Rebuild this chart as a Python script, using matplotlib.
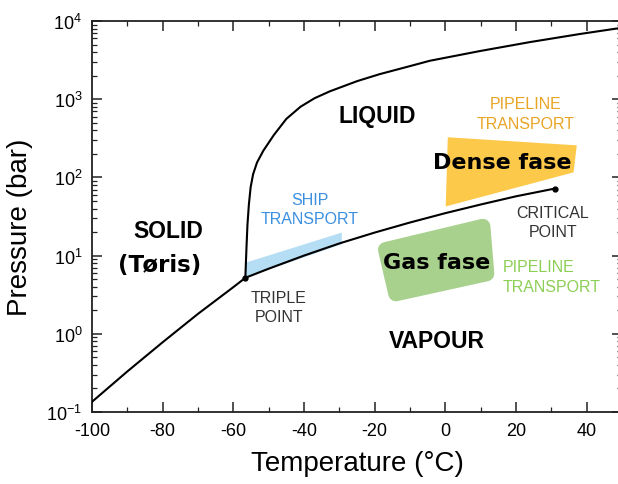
import matplotlib

matplotlib.use("Agg")
import matplotlib.pyplot as plt
from matplotlib.patches import Polygon
from matplotlib.ticker import LogLocator, MultipleLocator, NullFormatter

plt.rcParams["font.family"] = ["Liberation Sans", "DejaVu Sans"]
plt.rcParams["axes.unicode_minus"] = False

# phase boundaries (temperature in C, pressure in bar)
subl_t = [-100, -90, -80, -70, -60, -56.6]
subl_p = [0.135, 0.33, 0.78, 1.8, 3.95, 5.2]

vap_t = [-56.6, -50, -40, -30, -20, -10, 0, 10, 20, 31]
vap_p = [5.2, 6.8, 10.0, 14.3, 19.7, 26.5, 34.9, 45.0, 57.3, 72.0]

melt_t = [-56.6, -56.3, -56.0, -55.6, -55.1, -54.4, -53.3, -51.5, -48.5, -45, -41,
          -37, -32.7, -25, -18.6, -10, -4.4, 9.7, 23.9, 38.0, 50]
melt_p = [5.2, 12, 25, 45, 75, 110, 155, 220, 350, 560, 800,
          1030, 1260, 1700, 2090, 2650, 3100, 4120, 5370, 6810, 8200]

triple_pt = (-56.6, 5.2)
critical_pt = (31, 72.0)

# transport regions
ship_t = [-56.6, -56.6, -29.3, -29.3]
ship_p = [5.2, 8.1, 19.7, 14.0]

dense_t = [0.7, 37.2, 36.3, 0.1]
dense_p = [326, 257, 116, 42.5]

gas_t = [-16.9, 10.6, 11.7, -14.0]
gas_p = [11.9, 23.6, 5.87, 3.26]

W, H = 618, 485
fig = plt.figure(figsize=(W / 100, H / 100), dpi=100)
ax = fig.add_axes([92 / W, 72 / H, 530 / W, 391 / H])

ax.add_patch(Polygon(list(zip(ship_t, ship_p)), closed=True,
                     facecolor="#b5def5", edgecolor="none", zorder=1))
ax.add_patch(Polygon(list(zip(dense_t, dense_p)), closed=True,
                     facecolor="#fdc94b", edgecolor="none", zorder=1))
ax.add_patch(Polygon(list(zip(gas_t, gas_p)), closed=True,
                     facecolor="#a9d18e", edgecolor="#a9d18e", linewidth=11,
                     joinstyle="round", zorder=1))

for t, p in ((subl_t, subl_p), (vap_t, vap_p), (melt_t, melt_p)):
    ax.plot(t, p, color="black", linewidth=1.5, zorder=3,
            solid_joinstyle="round")
ax.plot(*triple_pt, "o", color="black", markersize=3.5, zorder=4)
ax.plot(*critical_pt, "o", color="black", markersize=3.5, zorder=4)

ax.set_yscale("log")
ax.set_xlim(-100, 50)
ax.set_ylim(0.1, 1e4)

ax.xaxis.set_major_locator(MultipleLocator(20))
ax.xaxis.set_minor_locator(MultipleLocator(10))
ax.yaxis.set_major_locator(LogLocator(base=10))
ax.yaxis.set_minor_locator(LogLocator(base=10, subs=range(2, 10)))
ax.yaxis.set_minor_formatter(NullFormatter())
ax.tick_params(which="both", direction="in", top=True, right=True,
               labelsize=13, color="#222222")
ax.tick_params(which="major", length=7, width=1.1, pad=7)
ax.tick_params(which="minor", length=3.5, width=0.9)
for s in ax.spines.values():
    s.set_linewidth(1.3)
    s.set_color("#222222")

ax.set_xlabel("Temperature (°C)", fontsize=20, labelpad=8)
ax.set_ylabel("Pressure (bar)", fontsize=20)
ax.yaxis.set_label_coords(-0.112, 0.475)

bold = dict(fontsize=16.5, fontweight="bold", ha="center", va="center", zorder=5)
ax.text(-19.3, 610, "LIQUID", **bold)
ax.text(-78.5, 21.2, "SOLID", **bold)
ax.text(-81.0, 7.8, "(Tøris)", family="DejaVu Sans", **bold)
ax.text(-2.35, 0.81, "VAPOUR", **bold)
fase = dict(fontsize=16, fontweight="bold", family="DejaVu Sans",
            ha="center", va="center", zorder=5)
ax.text(16.0, 157, "Dense fase", **fase)
ax.text(-2.6, 8.28, "Gas fase", **fase)

small = dict(fontsize=11.5, ha="center", va="center", zorder=5)
ax.text(-38.3, 52, "SHIP", color="#3a8fe0", **small)
ax.text(-38.3, 29.5, "TRANSPORT", color="#3a8fe0", **small)
ax.text(-47.1, 2.95, "TRIPLE", color="#333333", **small)
ax.text(-47.1, 1.64, "POINT", color="#333333", **small)
ax.text(30.5, 36.1, "CRITICAL", color="#333333", **small)
ax.text(30.5, 20.6, "POINT", color="#333333", **small)
ax.text(22.8, 869, "PIPELINE", color="#e8a424", **small)
ax.text(22.8, 482, "TRANSPORT", color="#e8a424", **small)
left = dict(small, ha="left")
ax.text(16.3, 7.36, "PIPELINE", color="#8ccf55", **left)
ax.text(16.3, 4.08, "TRANSPORT", color="#8ccf55", **left)

fig.savefig("out.png", dpi=100)
